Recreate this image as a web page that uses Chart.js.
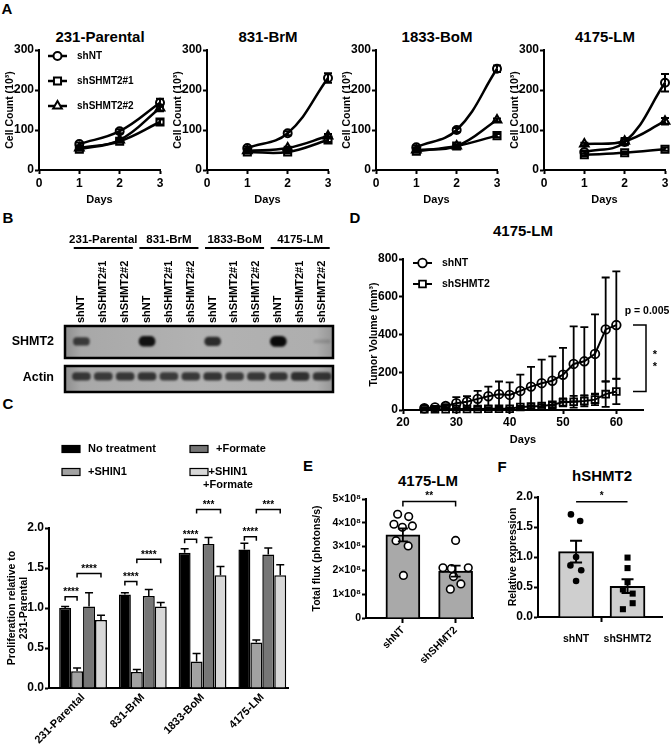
<!DOCTYPE html>
<html>
<head>
<meta charset="utf-8">
<script src="https://cdn.jsdelivr.net/npm/chart.js@4.4.1/dist/chart.umd.min.js"></script>
<style>
  body { margin: 0; background: #fff; }
  #page { position: relative; width: 671px; height: 750px; overflow: hidden; font-family: "Liberation Sans", Arial, sans-serif; }
  #page canvas { position: absolute; }
  .txt { position: absolute; transform: translate(-50%, -50%); white-space: nowrap; font-weight: bold; color: #000; }
</style>
</head>
<body>
<div id="page"></div>
<script>
// ---------- data ----------
// A: cell counts (x10^3)
const days = [1, 2, 3];
const cellLines = ['231-Parental', '831-BrM', '1833-BoM', '4175-LM'];
const shNT_A = [[65, 97, 168], [55, 92, 230], [57, 100, 253], [45, 70, 218]];
const shSHMT2_1_A = [[52, 72, 120], [45, 45, 75], [47, 60, 86], [38, 43, 52]];
const shSHMT2_2_A = [[55, 75, 155], [48, 55, 85], [50, 60, 125], [65, 72, 122]];
const shNT_A_err = [[4, 5, 10], [4, 5, 12], [4, 5, 8], [4, 8, 22]];
const shSHMT2_1_A_err = [[3, 3, 6], [3, 3, 5], [3, 3, 4], [3, 3, 4]];
const shSHMT2_2_A_err = [[3, 3, 8], [3, 3, 5], [3, 3, 4], [3, 8, 8]];

// B: western blot band signal (0..1)
const laneNames = ['shNT', 'shSHMT2#1', 'shSHMT2#2', 'shNT', 'shSHMT2#1', 'shSHMT2#2',
                   'shNT', 'shSHMT2#1', 'shSHMT2#2', 'shNT', 'shSHMT2#1', 'shSHMT2#2'];
const shmt2Signal = [0.7, 0, 0, 0.95, 0, 0, 0.8, 0, 0, 1, 0, 0.15];
const actinSignal = [0.8, 0.78, 0.8, 0.82, 0.78, 0.8, 0.82, 0.78, 0.8, 0.82, 0.85, 0.82];

// C: proliferation relative to 231-Parental
const treatments = ['No treatment', '+SHIN1', '+Formate', ['+SHIN1', '+Formate']];
const noTreatment = [1.0, 1.17, 1.69, 1.73];
const shin1 = [0.21, 0.20, 0.33, 0.57];
const formate = [1.02, 1.15, 1.80, 1.67];
const shin1Formate = [0.85, 1.02, 1.41, 1.41];
const noTreatmentErr = [0.02, 0.02, 0.05, 0.08];
const shin1Err = [0.04, 0.03, 0.10, 0.03];
const formateErr = [0.17, 0.08, 0.08, 0.08];
const shin1FormateErr = [0.06, 0.05, 0.11, 0.13];
const sigNear = ['****', '****', '****', '****'];
const sigNearLevel = [1.14, 1.33, 1.86, 1.89];
const sigFar = ['****', '****', '***', '***'];
const sigFarLevel = [1.43, 1.61, 2.23, 2.23];

// D: tumor volume (mm^3)
const tumorDays = [24, 26, 28, 30, 32, 34, 36, 38, 40, 42, 44, 46, 48, 50, 52, 54, 56, 58, 60];
const tumorShNT = [9, 14, 21, 36, 44, 59, 73, 84, 80, 101, 124, 142, 155, 187, 244, 258, 297, 427, 450];
const tumorShNTErr = [5, 6, 10, 32, 29, 42, 51, 67, 66, 86, 104, 125, 129, 142, 199, 181, 210, 275, 284];
const tumorShSHMT2 = [4, 4, 4, 5, 5, 5, 7, 7, 7, 16, 18, 21, 28, 41, 44, 48, 55, 84, 98];
const tumorShSHMT2Err = [2, 2, 2, 3, 3, 3, 4, 4, 4, 6, 8, 10, 13, 21, 31, 28, 29, 67, 67];
const tumorP = 'p = 0.005';

// E: total flux (photons/s)
const fluxGroups = ['shNT', 'shSHMT2'];
const fluxShNT = [4.36e8, 4.26e8, 3.94e8, 3.81e8, 3.87e8, 3.25e8, 3.03e8, 1.79e8];
const fluxShSHMT2 = [3.26e8, 2.11e8, 2.08e8, 2.11e8, 1.74e8, 1.43e8, 1.21e8];
const fluxMean = [3.49e8, 1.97e8];
const fluxSem = [0.27e8, 0.23e8];
// horizontal jitter of the dots (in category units)
const fluxShNTJitter = [-0.1, 0.11, -0.17, -0.01, 0.18, -0.13, 0.1, 0.01];
const fluxShSHMT2Jitter = [0, -0.24, -0.08, 0.24, -0.04, 0.1, -0.1];

// F: hSHMT2 relative expression
const exprGroups = ['shNT', 'shSHMT2'];
const exprShNT = [1.71, 1.60, 1.0, 0.86, 0.78, 0.60];
const exprShSHMT2 = [0.99, 0.815, 0.58, 0.46, 0.39, 0.23, 0.13];
const exprMean = [1.09, 0.51];
const exprSemUp = [0.18, 0.12];
const exprSemDown = [0.18, 0.11];
const exprShNTJitter = [-0.1, 0.08, 0, -0.11, 0.1, 0];
const exprShSHMT2Jitter = [0, 0, 0, -0.09, 0.1, 0.1, -0.09];

// ---------- helpers ----------
const FONT = '"Liberation Sans", Arial, sans-serif';
Chart.defaults.font.family = FONT;
Chart.defaults.font.weight = 'bold';
Chart.defaults.color = '#000';
Chart.defaults.plugins.legend.display = false;
Chart.defaults.plugins.tooltip.enabled = false;
Chart.defaults.animation = false;
Chart.defaults.responsive = false;

const page = document.getElementById('page');

function addText(t, x, y, size) {
  const d = document.createElement('div');
  d.className = 'txt';
  d.textContent = t;
  d.style.left = x + 'px';
  d.style.top = y + 'px';
  d.style.fontSize = size + 'px';
  page.appendChild(d);
}

function makeCanvas(left, top, w, h) {
  const c = document.createElement('canvas');
  c.width = w; c.height = h;
  c.style.left = left + 'px'; c.style.top = top + 'px';
  c.style.width = w + 'px'; c.style.height = h + 'px';
  c.dataset.ox = left; c.dataset.oy = top;
  page.appendChild(c);
  return c;
}

// box = plot area in page px, m = room round it for axes and labels
function plotChart(box, m, config) {
  const c = makeCanvas(box.l - m.l, box.t - m.t, box.r - box.l + m.l + m.r, box.b - box.t + m.t + m.b);
  config.options.layout = { padding: { left: 0, top: m.t, right: m.r, bottom: 0 } };
  config.options.scales.x.afterFit = s => { s.height = m.b; };
  config.options.scales.y.afterFit = s => { s.width = m.l; };
  return new Chart(c, config);
}

// draw in page coordinates
function inPage(chart, fn) {
  const ctx = chart.ctx;
  ctx.save();
  ctx.translate(-chart.canvas.dataset.ox, -chart.canvas.dataset.oy);
  fn(ctx, +chart.canvas.dataset.ox, +chart.canvas.dataset.oy);
  ctx.restore();
}

function axis(o) {
  const s = {
    type: 'linear', min: o.min, max: o.max, offset: false,
    border: { color: '#000', width: 2 },
    grid: Object.assign({ drawOnChartArea: false, tickLength: 4, tickWidth: 2, tickColor: '#000', offset: false }, o.grid || {}),
    ticks: Object.assign({ color: '#000', font: { size: 12, weight: 'bold' }, padding: 1, autoSkip: false }, o.ticks || {}),
    title: o.title ? Object.assign({ display: true, color: '#000', font: { size: 10.5, weight: 'bold' } }, o.title) : { display: false }
  };
  if (o.afterBuildTicks) s.afterBuildTicks = o.afterBuildTicks;
  return s;
}

function marker(ctx, style, x, y, r, fill) {
  ctx.beginPath();
  if (style === 'circle') {
    ctx.arc(x, y, r, 0, Math.PI * 2);
  } else if (style === 'rect') {
    const h = r / Math.SQRT2;
    ctx.rect(x - h, y - h, 2 * h, 2 * h);
  } else {
    ctx.moveTo(x, y - r);
    ctx.lineTo(x + r * Math.sin(Math.PI * 2 / 3), y - r * Math.cos(Math.PI * 2 / 3));
    ctx.lineTo(x + r * Math.sin(Math.PI * 4 / 3), y - r * Math.cos(Math.PI * 4 / 3));
    ctx.closePath();
  }
  if (fill) { ctx.fillStyle = fill; ctx.fill(); }
  ctx.stroke();
}

function hLine(ctx, x1, y1, x2, y2, w) {
  ctx.lineWidth = w;
  ctx.strokeStyle = '#000';
  ctx.beginPath(); ctx.moveTo(x1, y1); ctx.lineTo(x2, y2); ctx.stroke();
}

// error bars for datasets carrying errUp / errDown
Chart.register({
  id: 'errorBars',
  afterDatasetsDraw(chart) {
    const ctx = chart.ctx;
    chart.data.datasets.forEach((ds, di) => {
      if (!ds.errUp && !ds.errDown) return;
      const meta = chart.getDatasetMeta(di);
      const ys = chart.scales[meta.yAxisID];
      ctx.save();
      ctx.strokeStyle = '#000';
      ctx.lineWidth = ds.errWidth || 1.5;
      const cap = ds.errCap || 4;
      meta.data.forEach((el, i) => {
        const v = ds.data[i].y;
        const y0 = ys.getPixelForValue(v);
        [[ds.errUp, 1], [ds.errDown, -1]].forEach(([arr, sgn]) => {
          if (!arr || !arr[i]) return;
          const y1 = ys.getPixelForValue(v + sgn * arr[i]);
          ctx.beginPath();
          ctx.moveTo(el.x, y0); ctx.lineTo(el.x, y1);
          ctx.moveTo(el.x - cap, y1); ctx.lineTo(el.x + cap, y1);
          ctx.stroke();
        });
      });
      ctx.restore();
    });
  }
});

// ---------- panel letters ----------
addText('A', 7, 8, 15);
addText('B', 8, 217, 15);
addText('C', 8, 403, 15);
addText('D', 355, 217, 15);
addText('E', 308, 465, 15);
addText('F', 502, 466, 15);

// ---------- A ----------
const seriesA = [
  { label: 'shNT', vals: shNT_A, err: shNT_A_err, style: 'circle', r: 4 },
  { label: 'shSHMT2#1', vals: shSHMT2_1_A, err: shSHMT2_1_A_err, style: 'rect', r: 5 },
  { label: 'shSHMT2#2', vals: shSHMT2_2_A, err: shSHMT2_2_A_err, style: 'triangle', r: 5 }
];
const legendA = {
  id: 'legendA',
  afterDraw(chart) {
    inPage(chart, ctx => {
      seriesA.forEach((s, k) => {
        const y = 56 + 25 * k;
        hLine(ctx, 48, y, 67, y, 2.5);
        ctx.lineWidth = 2;
        marker(ctx, s.style, 57.5, y, s.r, '#fff');
        ctx.fillStyle = '#000';
        ctx.font = 'bold 10px ' + FONT;
        ctx.textBaseline = 'middle';
        ctx.fillText(s.label, 77, y);
      });
    });
  }
};
const axisA = [39, 207, 376, 544];
cellLines.forEach((name, i) => {
  const x0 = axisA[i];
  addText(name, x0 + 61, 36, 15);
  plotChart({ l: x0, t: 50, r: x0 + 121, b: 170 }, { l: 39, t: 50, r: 8, b: 41 }, {
    type: 'line',
    data: {
      datasets: seriesA.map(s => ({
        label: s.label,
        data: days.map((d, k) => ({ x: d, y: s.vals[i][k] })),
        errUp: s.err[i], errDown: s.err[i], errCap: 4, errWidth: 2,
        borderColor: '#000', borderWidth: 2.5, tension: 0.4, clip: false,
        pointStyle: s.style, pointRadius: s.r, pointBorderWidth: 2,
        pointBorderColor: '#000', pointBackgroundColor: 'rgba(0,0,0,0)'
      }))
    },
    options: {
      scales: {
        x: axis({ min: 0, max: 3, ticks: { stepSize: 1, padding: 2 }, title: { text: 'Days', font: { size: 11, weight: 'bold' } } }),
        y: axis({ min: 0, max: 300, ticks: { stepSize: 100 }, title: { text: 'Cell Count (10³)' } })
      }
    },
    plugins: i === 0 ? [legendA] : []
  });
});

// ---------- B (blot) ----------
const blotFrame = {
  id: 'blotFrame',
  beforeDatasetsDraw(chart) {
    const { ctx, chartArea: a } = chart;
    const g = ctx.createLinearGradient(a.left, 0, a.right, 0);
    g.addColorStop(0, '#8e8e8e');
    g.addColorStop(0.06, '#a8a8a8');
    g.addColorStop(0.5, '#b2b2b2');
    g.addColorStop(0.94, '#aeaeae');
    g.addColorStop(1, '#959595');
    ctx.save();
    ctx.fillStyle = g;
    ctx.fillRect(a.left, a.top, a.right - a.left, a.bottom - a.top);
    ctx.restore();
    ctx.save();
    ctx.filter = 'blur(1px)';
  },
  afterDatasetsDraw(chart) {
    const { ctx, chartArea: a } = chart;
    ctx.restore();
    ctx.save();
    ctx.strokeStyle = '#000';
    ctx.lineWidth = 2.5;
    ctx.strokeRect(a.left, a.top, a.right - a.left, a.bottom - a.top);
    ctx.restore();
  }
};
function blotOptions(xTop) {
  const x = {
    type: 'linear', min: -0.75, max: 11.5, offset: false,
    display: xTop, position: 'top',
    grid: { display: false, drawTicks: false }, border: { display: false },
    ticks: {
      color: '#000', font: { size: 11, weight: 'bold' }, padding: 3, autoSkip: false,
      minRotation: 90, maxRotation: 90, labelOffset: 13,
      callback: v => laneNames[v] ?? ''
    },
    afterBuildTicks: s => { s.ticks = laneNames.map((n, i) => ({ value: i })); }
  };
  if (xTop) x.afterFit = s => { s.height = 65; };
  return {
    layout: { padding: { left: 65, right: 7, top: xTop ? 33 : 6, bottom: 2 } },
    scales: { x, y: { display: false, min: 0, max: 1 } }
  };
}
const blotHeaders = {
  id: 'blotHeaders',
  afterDraw(chart) {
    const xs = chart.scales.x;
    inPage(chart, (ctx, ox) => {
      ctx.fillStyle = '#000';
      ctx.textAlign = 'center';
      ctx.textBaseline = 'middle';
      ctx.font = 'bold 11.5px ' + FONT;
      cellLines.forEach((name, g) => {
        const x1 = xs.getPixelForValue(3 * g - 0.35) + ox;
        const x2 = xs.getPixelForValue(3 * g + 2.35) + ox;
        ctx.fillText(name, (x1 + x2) / 2, 240);
        hLine(ctx, x1, 248, x2, 248, 2);
      });
      ctx.font = 'bold 12.5px ' + FONT;
      ctx.textAlign = 'right';
      ctx.fillText('SHMT2', 54, 342);
    });
  }
};
new Chart(makeCanvas(0, 228, 340, 132), {
  type: 'bar',
  data: {
    datasets: [{
      data: shmt2Signal.map((s, i) => ({ x: i, y: [0.52 - (0.03 + 0.13 * s), 0.52 + (0.03 + 0.13 * s)] })),
      backgroundColor: shmt2Signal.map(s => `rgba(10,10,10,${s})`),
      barThickness: 16, borderRadius: 6, borderSkipped: false
    }]
  },
  options: blotOptions(true),
  plugins: [blotFrame, blotHeaders]
});
new Chart(makeCanvas(0, 360, 340, 34), {
  type: 'bar',
  data: {
    datasets: [{
      data: actinSignal.map((s, i) => ({ x: i, y: [0.6 - (0.05 + 0.12 * s), 0.6 + (0.05 + 0.12 * s)] })),
      backgroundColor: actinSignal.map(s => `rgba(25,25,25,${s})`),
      barThickness: 18, borderRadius: 6, borderSkipped: false
    }]
  },
  options: blotOptions(false),
  plugins: [blotFrame, {
    id: 'actinLabel',
    afterDraw(chart) {
      inPage(chart, ctx => {
        ctx.fillStyle = '#000';
        ctx.font = 'bold 12.5px ' + FONT;
        ctx.textAlign = 'right';
        ctx.textBaseline = 'middle';
        ctx.fillText('Actin', 54, 378);
      });
    }
  }]
});

// ---------- C ----------
const cValues = [noTreatment, shin1, formate, shin1Formate];
const cErrors = [noTreatmentErr, shin1Err, formateErr, shin1FormateErr];
const cColors = ['#000000', '#a2a2a2', '#767676', '#d8d8d8'];
const cDeco = {
  id: 'cDeco',
  afterDraw(chart) {
    const ys = chart.scales.y;
    inPage(chart, (ctx, ox, oy) => {
      const barX = (k, i) => chart.getDatasetMeta(k).data[i].x + ox;
      // legend
      const pos = [[62, 449], [62, 472], [190, 449], [190, 472]];
      ctx.font = 'bold 11px ' + FONT;
      ctx.textBaseline = 'middle';
      treatments.forEach((t, k) => {
        const [x, y] = pos[k];
        ctx.fillStyle = cColors[k];
        ctx.fillRect(x, y - 3.5, 18, 7);
        ctx.strokeStyle = '#000'; ctx.lineWidth = 1.2;
        ctx.strokeRect(x, y - 3.5, 18, 7);
        ctx.fillStyle = '#000';
        if (Array.isArray(t)) {
          ctx.textAlign = 'center';
          t.forEach((line, j) => ctx.fillText(line, 228, y + 13 * j));
        } else {
          ctx.textAlign = 'left';
          ctx.fillText(t, x + 26, y);
        }
      });
      // significance brackets
      ctx.textAlign = 'center';
      ctx.textBaseline = 'alphabetic';
      ctx.font = 'bold 10px ' + FONT;
      cellLines.forEach((n, i) => {
        [[0, 1, sigNearLevel[i], sigNear[i]], [1, 3, sigFarLevel[i], sigFar[i]]].forEach(([a, b, lvl, txt]) => {
          const x1 = barX(a, i), x2 = barX(b, i);
          const y = ys.getPixelForValue(lvl) + oy;
          ctx.strokeStyle = '#000'; ctx.lineWidth = 1.5;
          ctx.beginPath();
          ctx.moveTo(x1, y + 4); ctx.lineTo(x1, y); ctx.lineTo(x2, y); ctx.lineTo(x2, y + 4);
          ctx.stroke();
          ctx.fillStyle = '#000';
          ctx.fillText(txt, (x1 + x2) / 2, y - 1.5);
        });
      });
    });
  }
};
plotChart({ l: 49, t: 528, r: 288, b: 688 }, { l: 49, t: 88, r: 14, b: 62 }, {
  type: 'bar',
  data: {
    datasets: cValues.map((vals, k) => ({
      label: Array.isArray(treatments[k]) ? treatments[k].join(' ') : treatments[k],
      data: vals.map((v, i) => ({ x: i, y: v })),
      errUp: cErrors[k], errCap: 4,
      backgroundColor: cColors[k], borderColor: '#000', borderWidth: 1.5,
      barPercentage: 1, categoryPercentage: 0.8
    }))
  },
  options: {
    scales: {
      x: axis({
        min: -0.57, max: 3.43,
        grid: { drawTicks: false },
        ticks: { font: { size: 11, weight: 'bold' }, padding: 3, minRotation: 45, maxRotation: 45, callback: v => cellLines[v] ?? '' },
        afterBuildTicks: s => { s.ticks = cellLines.map((n, i) => ({ value: i })); }
      }),
      y: axis({
        min: 0, max: 2,
        ticks: { stepSize: 0.5, callback: v => v.toFixed(1) },
        title: { text: ['Proliferation relative to', '231-Parental'], font: { size: 10.5, weight: 'bold', lineHeight: 1.15 }, padding: { top: 6, bottom: 0 } }
      })
    }
  },
  plugins: [cDeco]
});

// ---------- D ----------
addText('4175-LM', 523, 230, 15);
const seriesD = [
  { label: 'shNT', vals: tumorShNT, err: tumorShNTErr, style: 'circle', r: 4.3 },
  { label: 'shSHMT2', vals: tumorShSHMT2, err: tumorShSHMT2Err, style: 'rect', r: 4.8 }
];
const dDeco = {
  id: 'dDeco',
  afterDraw(chart) {
    const ys = chart.scales.y;
    inPage(chart, (ctx, ox, oy) => {
      seriesD.forEach((s, k) => {
        const y = 263 + 21 * k;
        hLine(ctx, 413, y, 432, y, 2);
        ctx.lineWidth = 1.8;
        marker(ctx, s.style, 422.5, y, s.r, '#fff');
        ctx.fillStyle = '#000';
        ctx.font = 'bold 10.5px ' + FONT;
        ctx.textAlign = 'left';
        ctx.textBaseline = 'middle';
        ctx.fillText(s.label, 442, y);
      });
      const yTop = ys.getPixelForValue(tumorShNT[tumorShNT.length - 1]) + oy;
      const yBot = ys.getPixelForValue(tumorShSHMT2[tumorShSHMT2.length - 1]) + oy;
      ctx.strokeStyle = '#000'; ctx.lineWidth = 1.5;
      ctx.beginPath();
      ctx.moveTo(633, yTop); ctx.lineTo(646, yTop); ctx.lineTo(646, yBot); ctx.lineTo(633, yBot);
      ctx.stroke();
      ctx.fillStyle = '#000';
      ctx.textAlign = 'center';
      ctx.textBaseline = 'middle';
      ctx.font = 'bold 10.5px ' + FONT;
      ctx.fillText(tumorP, 647, yTop - 14);
      ctx.textBaseline = 'alphabetic';
      ctx.font = 'bold 11px ' + FONT;
      ctx.fillText('*', 655, (yTop + yBot) / 2);
      ctx.fillText('*', 655, (yTop + yBot) / 2 + 12);
    });
  }
};
plotChart({ l: 403, t: 259, r: 643, b: 410 }, { l: 39, t: 14, r: 30, b: 41 }, {
  type: 'line',
  data: {
    datasets: seriesD.map(s => ({
      label: s.label,
      data: tumorDays.map((d, k) => ({ x: d, y: s.vals[k] })),
      errUp: s.err, errDown: s.err, errCap: 4, errWidth: 1.8,
      borderColor: '#000', borderWidth: 2, tension: 0, clip: false,
      pointStyle: s.style, pointRadius: s.r, pointBorderWidth: 1.8,
      pointBorderColor: '#000', pointBackgroundColor: 'rgba(0,0,0,0)'
    }))
  },
  options: {
    scales: {
      x: axis({
        min: 20, max: 65, ticks: { stepSize: 10, padding: 1 },
        title: { text: 'Days', font: { size: 11, weight: 'bold' } },
        afterBuildTicks: s => { s.ticks = s.ticks.filter(t => t.value % 10 === 0); }
      }),
      y: axis({ min: 0, max: 800, ticks: { stepSize: 200 }, title: { text: 'Tumor Volume (mm³)' } })
    }
  },
  plugins: [dDeco]
});

// ---------- E ----------
addText('4175-LM', 428, 480, 15);
function sigLine(chart, level, text, tick) {
  const ys = chart.scales.y;
  const bars = chart.getDatasetMeta(chart.data.datasets.length - 1).data;
  inPage(chart, (ctx, ox, oy) => {
    const x1 = bars[0].x + ox, x2 = bars[1].x + ox;
    const y = ys.getPixelForValue(level) + oy;
    ctx.strokeStyle = '#000'; ctx.lineWidth = 1.5;
    ctx.beginPath();
    ctx.moveTo(x1, y + tick); ctx.lineTo(x1, y); ctx.lineTo(x2, y); ctx.lineTo(x2, y + tick);
    ctx.stroke();
    ctx.fillStyle = '#000';
    ctx.textAlign = 'center';
    ctx.textBaseline = 'alphabetic';
    ctx.font = 'bold 10px ' + FONT;
    ctx.fillText(text, (x1 + x2) / 2, y - 2.5);
  });
}
plotChart({ l: 366, t: 499, r: 473, b: 618 }, { l: 59, t: 14, r: 12, b: 45 }, {
  type: 'bar',
  data: {
    datasets: [
      {
        type: 'scatter', order: 1,
        data: fluxShNT.map((v, i) => ({ x: 1 + fluxShNTJitter[i], y: v })),
        pointRadius: 3.8, pointBorderWidth: 1.6, pointBorderColor: '#000', pointBackgroundColor: '#fff'
      },
      {
        type: 'scatter', order: 1,
        data: fluxShSHMT2.map((v, i) => ({ x: 2 + fluxShSHMT2Jitter[i], y: v })),
        pointRadius: 3.8, pointBorderWidth: 1.6, pointBorderColor: '#000', pointBackgroundColor: '#fff'
      },
      {
        type: 'bar', order: 2,
        data: fluxMean.map((v, i) => ({ x: i + 1, y: v })),
        errUp: fluxSem, errDown: fluxSem, errCap: 5, errWidth: 1.8,
        backgroundColor: '#a9a9a9', borderColor: '#000', borderWidth: 2, barThickness: 34
      }
    ]
  },
  options: {
    scales: {
      x: axis({
        min: 0.3, max: 2.33,
        grid: { tickLength: 5 },
        ticks: { font: { size: 10.5, weight: 'bold' }, padding: 1, minRotation: 45, maxRotation: 45, callback: v => fluxGroups[v - 1] ?? '' },
        afterBuildTicks: s => { s.ticks = fluxGroups.map((n, i) => ({ value: i + 1 })); }
      }),
      y: axis({
        min: 0, max: 5e8,
        ticks: { stepSize: 1e8, font: { size: 10.5, weight: 'bold' }, callback: v => v === 0 ? '0' : `${Math.round(v / 1e8)}×10⁸` },
        title: { text: 'Total flux (photons/s)' }
      })
    }
  },
  plugins: [{ id: 'eSig', afterDraw(chart) { sigLine(chart, 4.89e8, '**', 5); } }]
});

// ---------- F ----------
addText('hSHMT2', 602, 475, 15);
plotChart({ l: 538, t: 497, r: 662, b: 617 }, { l: 35, t: 14, r: 8, b: 30 }, {
  type: 'bar',
  data: {
    datasets: [
      {
        type: 'scatter', order: 1,
        data: exprShNT.map((v, i) => ({ x: 1 + exprShNTJitter[i], y: v })),
        pointStyle: 'circle', pointRadius: 3.3, pointBorderWidth: 0, pointBackgroundColor: '#000'
      },
      {
        type: 'scatter', order: 1,
        data: exprShSHMT2.map((v, i) => ({ x: 2 + exprShSHMT2Jitter[i], y: v })),
        pointStyle: 'rect', pointRadius: 4.3, pointBorderWidth: 0, pointBackgroundColor: '#000'
      },
      {
        type: 'bar', order: 2,
        data: exprMean.map((v, i) => ({ x: i + 1, y: v })),
        errUp: exprSemUp, errDown: exprSemDown, errCap: 6, errWidth: 2,
        backgroundColor: '#cfcfcf', borderColor: '#000', borderWidth: 2, barThickness: 35
      }
    ]
  },
  options: {
    scales: {
      x: axis({
        min: 0.26, max: 2.67,
        grid: { tickLength: 5, tickColor: c => (c.tick && c.tick.value === 1.5 ? '#000' : 'rgba(0,0,0,0)') },
        ticks: { font: { size: 10.5, weight: 'bold' }, padding: 11, maxRotation: 0, callback: v => (v === 1 ? exprGroups[0] : v === 2 ? exprGroups[1] : '') },
        afterBuildTicks: s => { s.ticks = [{ value: 1 }, { value: 1.5 }, { value: 2 }]; }
      }),
      y: axis({
        min: 0, max: 2,
        ticks: { stepSize: 0.5, callback: v => v.toFixed(1) },
        title: { text: 'Relative expression' }
      })
    }
  },
  plugins: [{ id: 'fSig', afterDraw(chart) { sigLine(chart, 1.92, '*', 0); } }]
});
</script>
</body>
</html>
